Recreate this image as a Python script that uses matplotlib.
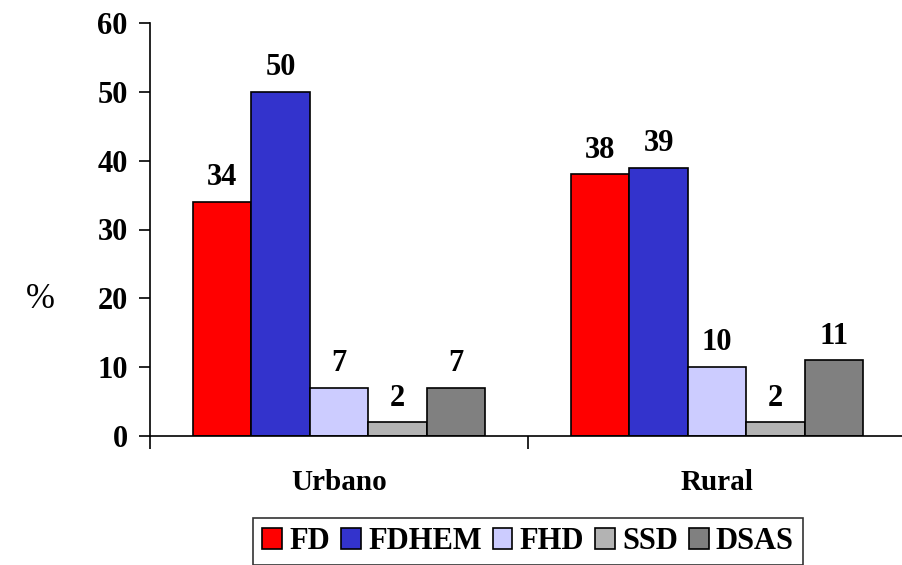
import matplotlib
matplotlib.use("Agg")
import matplotlib.pyplot as plt
import numpy as np

# data
categories = ["Urbano", "Rural"]
series = ["FD", "FDHEM", "FHD", "SSD", "DSAS"]
values = [
    [34, 38],   # FD
    [50, 39],   # FDHEM
    [7, 10],    # FHD
    [2, 2],     # SSD
    [7, 11],    # DSAS
]
colors = ["#FF0000", "#3333CC", "#CCCCFF", "#B3B3B3", "#808080"]
yticks = [0, 10, 20, 30, 40, 50, 60]

plt.rcParams["font.family"] = ["Liberation Serif", "DejaVu Serif"]
plt.rcParams["font.weight"] = "bold"

fig = plt.figure(figsize=(9.03, 5.65), dpi=100)
ax = fig.add_axes([150 / 903, 129 / 565, 756 / 903, 413 / 565])

x = np.arange(len(categories))
group_w = 0.772
bar_w = group_w / len(series)

for i, (name, vals, col) in enumerate(zip(series, values, colors)):
    pos = x - group_w / 2 + bar_w * (i + 0.5)
    ax.bar(pos, vals, width=bar_w, color=col, edgecolor="black", linewidth=1.2, label=name)
    # value labels above each bar
    for px, v in zip(pos, vals):
        ax.annotate(str(v), (px, v), xytext=(0, 7), textcoords="offset points",
                    ha="center", va="bottom", fontsize=22, fontweight="bold")

ax.set_xlim(-0.5, 1.5)
ax.set_ylim(0, 60)
ax.set_yticks(yticks)
ax.set_yticklabels([str(t) for t in yticks], fontsize=22, fontweight="bold")
ax.tick_params(axis="y", direction="out", length=8, width=1.2, pad=8)

# ticks sit between categories, labels in the middle
ax.set_xticks([-0.5, 0.5, 1.5])
ax.set_xticklabels([])
ax.set_xticks(x, minor=True)
ax.set_xticklabels(categories, minor=True, fontsize=21, fontweight="bold")
ax.tick_params(axis="x", which="major", direction="out", length=9, width=1.2)
ax.tick_params(axis="x", which="minor", length=0, pad=24)

for side in ["top", "right"]:
    ax.spines[side].set_visible(False)
for side in ["left", "bottom"]:
    ax.spines[side].set_linewidth(1.2)

fig.text(40 / 903, 1 - 300 / 565, "%", fontsize=25, fontweight="normal",
         ha="center", va="center")

leg = ax.legend(loc="upper center", bbox_to_anchor=(0.5, -0.1985), ncol=5,
                frameon=True, fancybox=False, edgecolor="black",
                prop={"size": 22, "weight": "bold"},
                handlelength=0.65, handleheight=0.65, handletextpad=0.23,
                columnspacing=0.36, borderpad=0.3, borderaxespad=0)
leg.get_frame().set_linewidth(1.2)

fig.savefig("out.png", dpi=100)
